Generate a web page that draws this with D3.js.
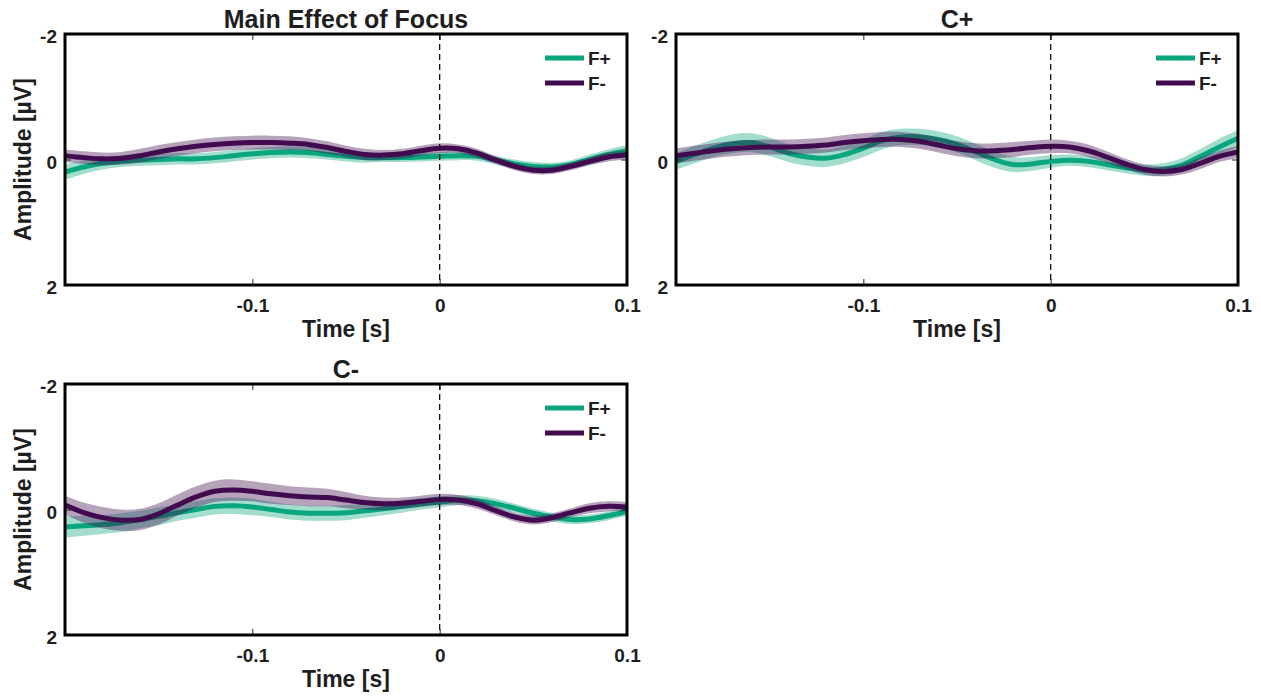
<!DOCTYPE html>
<html>
<head>
<meta charset="utf-8">
<script src="https://cdn.jsdelivr.net/npm/d3@7"></script>
<style>
  body { margin: 0; background: #fff; }
  text { font-family: Arial, "Liberation Sans", sans-serif; font-weight: bold; fill: #1e1e1e; }
</style>
</head>
<body>
<div id="chart"></div>
<script>
// Time points (s)
const times = [-0.20, -0.19, -0.18, -0.17, -0.16, -0.15, -0.14, -0.13, -0.12, -0.11,
               -0.10, -0.09, -0.08, -0.07, -0.06, -0.05, -0.04, -0.03, -0.02, -0.01,
                0.00,  0.01,  0.02,  0.03,  0.04,  0.05,  0.06,  0.07,  0.08,  0.09, 0.10];

const seriesNames = ["F+", "F-"];
const panelTitles = ["Main Effect of Focus", "C+", "C-"];

const xTicks = [-0.1, 0, 0.1];
const xTickLabels = ["-0.1", "0", "0.1"];
const yTicks = [-2, 0, 2];
const yTickLabels = ["-2", "0", "2"];

// Main effect of focus
const mainFplus = [0.20, 0.12, 0.06, 0.03, 0.01, 0.00, -0.01, -0.01, -0.03, -0.06,
                   -0.09, -0.11, -0.12, -0.11, -0.08, -0.05, -0.03, -0.03, -0.03, -0.04,
                   -0.05, -0.06, -0.05, 0.01, 0.07, 0.11, 0.12, 0.08, 0.00, -0.08, -0.14];
const mainFminus = [-0.06, -0.03, -0.01, -0.02, -0.06, -0.12, -0.17, -0.21, -0.24, -0.26,
                    -0.27, -0.27, -0.26, -0.24, -0.19, -0.13, -0.08, -0.07, -0.09, -0.14,
                    -0.18, -0.17, -0.10, 0.01, 0.11, 0.17, 0.17, 0.11, 0.03, -0.04, -0.07];
const mainFplusSem = [0.12, 0.11, 0.10, 0.09, 0.09, 0.09, 0.09, 0.09, 0.09, 0.09,
                      0.09, 0.09, 0.09, 0.09, 0.08, 0.08, 0.08, 0.07, 0.07, 0.07,
                      0.07, 0.07, 0.07, 0.07, 0.07, 0.07, 0.07, 0.07, 0.08, 0.08, 0.09];
const mainFminusSem = [0.10, 0.10, 0.10, 0.10, 0.11, 0.11, 0.11, 0.11, 0.11, 0.11,
                       0.11, 0.11, 0.11, 0.10, 0.10, 0.09, 0.09, 0.08, 0.08, 0.08,
                       0.08, 0.07, 0.07, 0.06, 0.06, 0.06, 0.06, 0.06, 0.06, 0.07, 0.07];

// C+
const cPlusFplus = [0.03, -0.08, -0.18, -0.25, -0.27, -0.20, -0.10, -0.04, -0.02, -0.08,
                    -0.18, -0.30, -0.36, -0.36, -0.32, -0.24, -0.12, 0.00, 0.08, 0.07,
                    0.03, 0.01, 0.03, 0.08, 0.13, 0.17, 0.16, 0.09, -0.05, -0.20, -0.34];
const cPlusFminus = [-0.06, -0.10, -0.14, -0.17, -0.19, -0.20, -0.20, -0.21, -0.23, -0.27,
                     -0.30, -0.32, -0.32, -0.29, -0.23, -0.17, -0.14, -0.14, -0.16, -0.19,
                     -0.21, -0.20, -0.14, -0.04, 0.07, 0.16, 0.19, 0.16, 0.06, -0.05, -0.12];
const cPlusFplusSem = [0.13, 0.14, 0.14, 0.15, 0.15, 0.15, 0.14, 0.14, 0.14, 0.14,
                       0.14, 0.14, 0.13, 0.13, 0.13, 0.13, 0.13, 0.13, 0.12, 0.11,
                       0.10, 0.09, 0.09, 0.09, 0.09, 0.09, 0.10, 0.11, 0.12, 0.13, 0.13];
const cPlusFminusSem = [0.12, 0.12, 0.12, 0.12, 0.12, 0.12, 0.12, 0.12, 0.12, 0.12,
                        0.12, 0.12, 0.12, 0.12, 0.12, 0.12, 0.12, 0.12, 0.12, 0.11,
                        0.11, 0.10, 0.10, 0.09, 0.08, 0.08, 0.08, 0.08, 0.09, 0.09, 0.10];

// C-
const cMinusFplus = [0.28, 0.26, 0.24, 0.21, 0.16, 0.11, 0.05, 0.00, -0.05, -0.06,
                     -0.04, 0.00, 0.04, 0.06, 0.06, 0.05, 0.02, -0.01, -0.05, -0.09,
                     -0.12, -0.15, -0.14, -0.09, -0.02, 0.06, 0.12, 0.16, 0.15, 0.10, 0.03];
const cMinusFminus = [-0.07, 0.05, 0.13, 0.17, 0.16, 0.07, -0.07, -0.20, -0.29, -0.31,
                      -0.29, -0.25, -0.22, -0.20, -0.19, -0.15, -0.11, -0.09, -0.10, -0.13,
                      -0.16, -0.15, -0.09, 0.02, 0.12, 0.17, 0.13, 0.05, -0.02, -0.05, -0.04];
const cMinusFplusSem = [0.17, 0.16, 0.15, 0.15, 0.14, 0.14, 0.13, 0.13, 0.13, 0.13,
                        0.13, 0.12, 0.12, 0.12, 0.12, 0.12, 0.11, 0.10, 0.10, 0.09,
                        0.09, 0.08, 0.08, 0.08, 0.07, 0.07, 0.07, 0.07, 0.07, 0.07, 0.07];
const cMinusFminusSem = [0.15, 0.16, 0.17, 0.17, 0.17, 0.17, 0.17, 0.17, 0.17, 0.17,
                         0.16, 0.16, 0.15, 0.15, 0.14, 0.13, 0.11, 0.10, 0.09, 0.09,
                         0.09, 0.08, 0.08, 0.07, 0.07, 0.07, 0.07, 0.07, 0.08, 0.08, 0.08];

const colors = { "F+": "#0aa67d", "F-": "#420a4f" };

const panels = [
  { title: panelTitles[0], means: [mainFplus, mainFminus], sems: [mainFplusSem, mainFminusSem], left: 65, top: 34, ylabel: true },
  { title: panelTitles[1], means: [cPlusFplus, cPlusFminus], sems: [cPlusFplusSem, cPlusFminusSem], left: 676, top: 34, ylabel: false },
  { title: panelTitles[2], means: [cMinusFplus, cMinusFminus], sems: [cMinusFplusSem, cMinusFminusSem], left: 65, top: 384, ylabel: true }
];

const width = 562;
const height = 251;

const svg = d3.select("#chart")
  .append("svg")
  .attr("width", 1261)
  .attr("height", 696);

const x = d3.scaleLinear().domain([-0.2, 0.1]).range([0, width]);
const y = d3.scaleLinear().domain([-2, 2]).range([0, height]);

panels.forEach((p, pi) => {
  const g = svg.append("g")
    .attr("transform", "translate(" + p.left + "," + p.top + ")");

  const clipId = "clip" + pi;
  g.append("clipPath").attr("id", clipId)
    .append("rect").attr("width", width).attr("height", height);

  const plot = g.append("g").attr("clip-path", "url(#" + clipId + ")");

  // shaded error bands + mean lines, F+ first then F-
  seriesNames.forEach((name, si) => {
    const rows = times.map((t, i) => ({ t: t, m: p.means[si][i], s: p.sems[si][i] }));

    const area = d3.area()
      .x(d => x(d.t))
      .y0(d => y(d.m - d.s))
      .y1(d => y(d.m + d.s))
      .curve(d3.curveCatmullRom);

    const line = d3.line()
      .x(d => x(d.t))
      .y(d => y(d.m))
      .curve(d3.curveCatmullRom);

    plot.append("path")
      .datum(rows)
      .attr("d", area)
      .attr("fill", colors[name])
      .attr("fill-opacity", 0.38);

    plot.append("path")
      .datum(rows)
      .attr("d", line)
      .attr("fill", "none")
      .attr("stroke", colors[name])
      .attr("stroke-width", 5);
  });

  // stimulus onset
  g.append("line")
    .attr("x1", x(0)).attr("x2", x(0))
    .attr("y1", 0).attr("y2", height)
    .attr("stroke", "#111")
    .attr("stroke-width", 1.3)
    .attr("stroke-dasharray", "6,4");

  // Axes (ticks inside the box)
  const xAxis = g.append("g")
    .attr("transform", "translate(0," + height + ")")
    .call(d3.axisBottom(x).tickValues(xTicks).tickSize(-6).tickPadding(14)
      .tickFormat((d, i) => xTickLabels[i]));
  const xAxisTop = g.append("g")
    .call(d3.axisTop(x).tickValues(xTicks).tickSize(-6).tickFormat(""));
  const yAxis = g.append("g")
    .call(d3.axisLeft(y).tickValues(yTicks).tickSize(-6).tickPadding(8)
      .tickFormat((d, i) => yTickLabels[i]));
  const yAxisRight = g.append("g")
    .attr("transform", "translate(" + width + ",0)")
    .call(d3.axisRight(y).tickValues(yTicks).tickSize(-6).tickFormat(""));

  [xAxis, xAxisTop, yAxis, yAxisRight].forEach(a => {
    a.select(".domain").remove();
    a.selectAll(".tick line").attr("stroke", "#262626").attr("stroke-width", 1);
    a.selectAll("text").attr("font-size", 19).attr("fill", "#1e1e1e")
      .style("font-family", "Arial, 'Liberation Sans', sans-serif");
  });
  yAxis.selectAll("text").attr("dy", "0.45em");

  // box
  g.append("rect")
    .attr("width", width)
    .attr("height", height)
    .attr("fill", "none")
    .attr("stroke", "#000")
    .attr("stroke-width", 3);

  // title
  g.append("text")
    .attr("x", width / 2)
    .attr("y", -6)
    .attr("text-anchor", "middle")
    .attr("font-size", 25)
    .text(p.title);

  // x label
  g.append("text")
    .attr("x", width / 2)
    .attr("y", height + 52)
    .attr("text-anchor", "middle")
    .attr("font-size", 23)
    .text("Time [s]");

  // y label
  if (p.ylabel) {
    g.append("text")
      .attr("transform", "translate(" + (-34) + "," + (height / 2) + ") rotate(-90)")
      .attr("text-anchor", "middle")
      .attr("font-size", 23)
      .text("Amplitude [µV]");
  }

  // legend
  const legend = g.append("g")
    .attr("transform", "translate(" + (width - 82) + ",24)");
  seriesNames.forEach((name, si) => {
    legend.append("line")
      .attr("x1", 0).attr("x2", 39)
      .attr("y1", si * 25).attr("y2", si * 25)
      .attr("stroke", colors[name])
      .attr("stroke-width", 5);
    legend.append("text")
      .attr("x", 43)
      .attr("y", si * 25)
      .attr("dy", "0.36em")
      .attr("font-size", 19)
      .text(name);
  });
});
</script>
</body>
</html>
